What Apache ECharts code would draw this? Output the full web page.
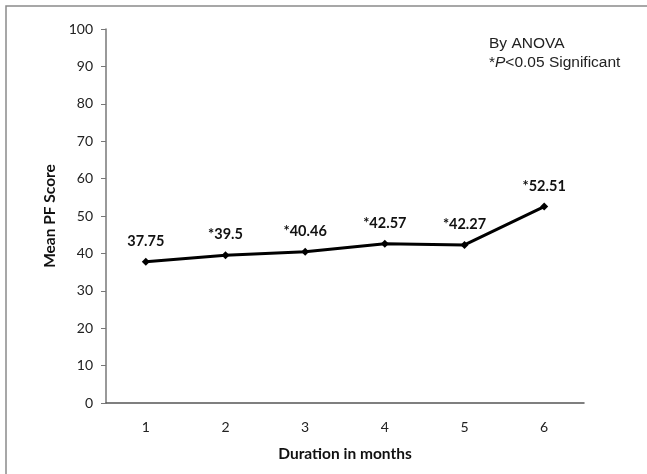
<!DOCTYPE html>
<html>
<head>
<meta charset="utf-8">
<script src="https://cdn.jsdelivr.net/npm/echarts@6/dist/echarts.min.js"></script>
<style>
  html, body { margin: 0; padding: 0; background: #fff; }
  #chart { width: 647px; height: 474px; }
</style>
</head>
<body>
<div id="chart"></div>
<script>
// Mean PF score by follow-up duration
const months = ['1', '2', '3', '4', '5', '6'];
const meanScores = [37.75, 39.5, 40.46, 42.57, 42.27, 52.51];
const significant = [false, true, true, true, true, true];
const yTicks = { min: 0, max: 100, interval: 10 };

const tickFont = 'Lato, "Open Sans", sans-serif';
const noteFont = '"Liberation Sans", Arial, sans-serif';

const chart = echarts.init(document.getElementById('chart'), null, { renderer: 'canvas' });
chart.setOption({
  animation: false,
  backgroundColor: '#fff',
  grid: { left: 106, right: 63, top: 29, bottom: 71 },
  graphic: [
    {
      type: 'rect',
      shape: { x: 6, y: 6, width: 700, height: 520 },
      style: { fill: 'none', stroke: '#8a8a8a', lineWidth: 1.5 },
      silent: true
    },
    {
      type: 'text',
      left: 489,
      top: 36,
      style: {
        rich: {
          t: { fontFamily: noteFont, fontSize: 15.5, fill: '#222', lineHeight: 19 },
          i: { fontFamily: noteFont, fontSize: 15.5, fontStyle: 'italic', fill: '#222', lineHeight: 19 }
        },
        text: '{t|By ANOVA}\n{t|*}{i|P}{t|<0.05 Significant}'
      }
    }
  ],
  xAxis: {
    type: 'category',
    data: months,
    boundaryGap: true,
    name: 'Duration in months',
    nameLocation: 'middle',
    nameGap: 43,
    nameTextStyle: { fontFamily: tickFont, fontSize: 15.5, fontWeight: 'bold', color: '#111' },
    axisLine: { lineStyle: { color: '#555', width: 1.5 } },
    axisTick: { show: false },
    axisLabel: { margin: 17, fontFamily: tickFont, fontSize: 14, color: '#222' },
    splitLine: { show: false }
  },
  yAxis: {
    type: 'value',
    min: yTicks.min,
    max: yTicks.max,
    interval: yTicks.interval,
    name: 'Mean PF Score',
    nameLocation: 'middle',
    nameGap: 48,
    nameRotate: 90,
    nameTextStyle: { fontFamily: tickFont, fontSize: 15.5, fontWeight: 'bold', color: '#111' },
    axisLine: { show: true, lineStyle: { color: '#777', width: 1.5 } },
    axisTick: { show: true, length: 5, lineStyle: { color: '#777', width: 1 } },
    axisLabel: { margin: 13, fontFamily: tickFont, fontSize: 14, color: '#222' },
    splitLine: { show: false }
  },
  series: [
    {
      type: 'line',
      data: meanScores,
      symbol: 'diamond',
      symbolSize: 8,
      lineStyle: { color: '#000', width: 3 },
      itemStyle: { color: '#000' },
      label: {
        show: true,
        position: 'top',
        distance: 9,
        fontFamily: tickFont,
        fontSize: 14.5,
        fontWeight: 'bold',
        color: '#111',
        formatter: p => (significant[p.dataIndex] ? '*' : '') + p.value
      }
    }
  ]
});
</script>
</body>
</html>
